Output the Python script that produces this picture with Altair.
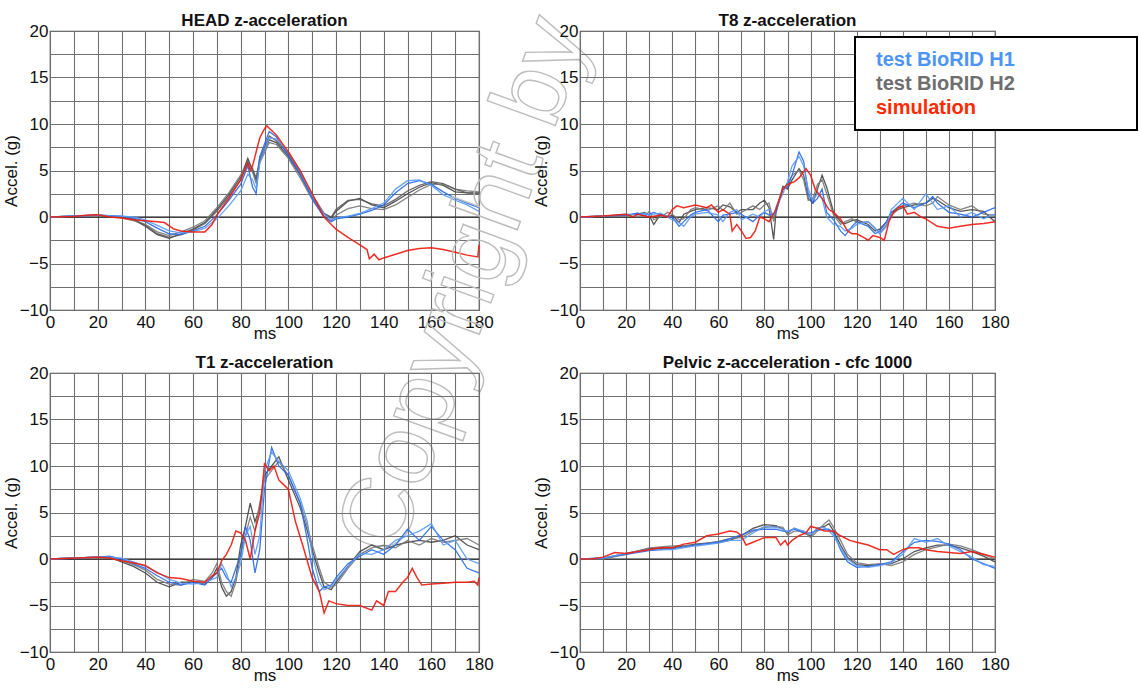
import altair as alt
import pandas as pd

# ---------------- data ----------------
# HEAD z-acceleration
head_t_test = [0,10,20,30,35,40,45,50,55,60,65,70,75,80,83,85,86.5,88,92,95,100,105,110,115,118,120,125,130,135,140,145,150,155,160,165,170,175,180]
head_gray1 = [0,0.1,0.2,0,-0.3,-1.0,-1.9,-2.3,-1.8,-1.3,-0.6,0.8,2.4,4.3,6.3,5.0,4.0,6.0,8.3,8.0,6.5,4.5,2.2,0.3,-0.1,0.6,1.7,2.0,1.3,1.0,1.7,2.5,3.2,3.7,3.4,2.7,2.6,2.6]
head_gray2 = [0,0.1,0.15,-0.1,-0.4,-0.8,-1.6,-2.0,-1.6,-1.1,-0.4,1.0,2.6,4.5,5.8,4.8,3.6,5.8,8.0,7.8,6.3,4.2,1.9,0.0,-0.4,0.2,0.9,1.2,0.9,0.8,1.3,2.1,2.9,3.5,3.5,3.0,2.8,2.7]
head_gray3 = [0,0.1,0.2,0,-0.2,-0.9,-1.8,-2.2,-1.9,-1.4,-0.7,0.6,2.2,4.0,6.0,5.2,4.2,6.3,8.7,8.2,6.8,4.7,2.4,0.4,0.0,0.8,1.8,1.9,1.4,1.2,1.9,2.8,3.4,3.8,3.6,3.0,2.6,2.5]
head_blue1 = [0,0.1,0.2,0.1,-0.1,-0.5,-1.2,-1.8,-1.9,-1.5,-1.0,0.2,1.8,3.5,5.5,3.2,2.5,6.5,9.2,8.6,6.6,4.6,2.0,0.0,-0.5,-0.2,0.0,0.3,0.7,1.3,2.6,3.6,3.9,3.5,2.7,2.0,1.5,1.0]
head_blue2 = [0,0.1,0.2,0.1,0.0,-0.3,-0.9,-1.5,-1.7,-1.6,-1.2,-0.2,1.2,2.8,4.6,4.0,3.0,5.8,8.5,8.4,7.0,4.9,2.3,0.3,-0.3,-0.1,0.1,0.4,0.9,1.5,3.0,3.9,4.0,3.4,2.4,1.8,1.3,0.6]
head_t_sim = [0,10,15,20,25,30,35,40,45,48,52,55,60,65,68,70,75,80,83,84,85,88,90,91,93,95,100,103,105,110,115,118,120,125,130,133,134,136,138,140,145,150,155,160,165,170,175,179.5,180]
head_sim = [0,0.05,0.2,0.25,0.0,-0.1,-0.3,-0.4,-0.5,-0.6,-1.3,-1.5,-1.6,-1.6,-0.8,0.2,2.0,4.0,5.8,5.0,5.5,8.5,9.5,9.8,9.3,8.8,7.0,5.8,5.0,2.5,0.0,-0.8,-1.3,-2.2,-3.0,-3.5,-4.5,-4.0,-4.6,-4.4,-4.0,-3.6,-3.4,-3.3,-3.5,-3.8,-4.1,-4.3,-3.0]

# T8 z-acceleration
t8_t_test = [0,10,20,25,28,30,32,35,38,40,43,45,48,50,55,60,62,65,68,70,75,78,80,82,84,85,88,90,92,95,97,99,101,103,105,107,110,113,115,118,120,125,128,130,133,135,140,145,150,153,155,160,165,170,175,180]
t8_gray1 = [0,0.1,0.2,0.3,0.5,0.2,-0.8,0.3,0.0,0.2,-0.6,0.3,0.6,0.8,1.0,0.8,1.3,1.1,0.5,0.8,0.8,1.5,1.8,1.0,-2.4,0.5,3.3,3.0,4.0,5.2,4.5,2.0,1.5,3.0,4.5,3.2,0.5,-0.5,-0.7,-0.4,-0.3,-0.8,-1.5,-1.3,-0.5,0.5,1.0,1.3,1.5,2.0,1.8,1.0,0.6,0.8,0.6,-0.5]
t8_gray2 = [0,0.1,0.1,0.4,0.0,0.6,-0.3,0.0,0.5,0.3,-0.3,-0.2,0.8,1.0,0.7,1.2,0.7,1.5,0.3,0.5,1.2,0.8,1.3,1.5,-0.5,1.0,3.0,3.6,4.5,5.0,4.0,1.8,2.0,3.5,4.0,2.5,0.2,-0.8,-0.5,-0.2,-0.6,-0.5,-1.2,-1.8,-0.8,0.2,1.2,1.5,1.2,1.5,2.2,1.3,0.8,1.2,0.3,0.2]
t8_blue1 = [0,0.1,0.2,0.4,0.2,0.3,0.5,0.2,0.1,0.0,-1.0,-0.5,0.2,0.5,0.8,-0.5,0.2,0.3,0.5,0.3,-0.5,0.2,0.5,0.2,0.3,0.5,3.0,3.2,4.5,7.0,6.0,2.5,1.5,2.0,3.0,0.5,-0.3,-1.5,-2.0,-1.0,-0.5,-1.0,-1.8,-1.5,-0.5,0.5,1.5,1.0,1.5,2.2,1.5,0.5,0.3,0.0,0.5,1.0]
t8_blue2 = [0,0.1,0.3,0.2,0.4,0.2,0.3,0.4,0.0,-0.3,-0.6,-1.0,0.0,0.3,0.5,0.2,-0.5,0.5,0.8,-0.3,0.3,0.0,0.6,0.8,0.2,1.0,2.5,3.8,5.5,6.5,5.5,3.0,1.8,2.5,2.0,0.0,-0.8,-1.0,-1.5,-1.2,-0.8,-0.5,-1.2,-1.8,-1.0,0.8,2.0,0.8,2.5,1.5,0.8,1.2,0.0,0.5,-0.2,0.3]
t8_t_sim = [0,10,20,23,25,30,35,38,40,42,45,50,55,57,60,62,65,66,68,70,72,74,76,78,80,82,85,88,90,93,95,98,100,102,105,108,110,113,116,118,120,123,125,127,130,132,134,136,138,140,142,145,148,150,155,160,165,170,175,180]
t8_sim = [0,0.1,0.3,0.0,0.3,0.0,0.2,0.0,0.8,1.2,1.0,1.3,1.0,1.3,0.5,0.8,0.3,-1.5,-0.8,-1.5,-2.3,-2.2,-1.5,0.0,-0.2,-0.5,0.8,3.0,3.5,3.8,4.2,5.2,4.5,3.0,2.0,0.8,0.5,-0.2,-1.5,-1.8,-1.8,-2.2,-2.5,-2.0,-2.2,-2.5,-0.5,0.5,1.0,1.2,0.3,0.5,0.0,-0.2,-1.0,-1.2,-1.0,-0.8,-0.7,-0.5]

# T1 z-acceleration
t1_t_test = [0,20,25,30,35,40,45,50,55,60,65,68,70,72,74,76,78,80,82,84,86,88,90,93,96,100,105,108,110,113,115,118,120,125,130,135,140,145,150,155,160,165,170,175,180]
t1_gray1 = [0,0.2,0.2,-0.3,-0.8,-1.5,-2.5,-3.0,-2.5,-2.5,-2.7,-2.0,-1.0,-3.0,-4.0,-3.5,-2.0,1.5,3.5,6.0,4.0,5.5,9.0,10.0,11.0,8.5,5.5,3.0,1.0,-1.5,-3.0,-3.3,-2.5,-0.8,0.8,1.5,1.0,1.5,1.8,2.0,1.8,2.0,2.5,1.5,1.0]
t1_gray2 = [0,0.2,0.1,-0.2,-0.6,-1.2,-2.2,-2.7,-2.8,-2.2,-2.4,-1.5,-0.5,-2.5,-3.5,-4.0,-2.5,0.5,2.5,4.5,3.0,6.0,8.5,9.5,10.5,9.0,6.0,3.5,1.5,-1.0,-2.5,-3.0,-2.8,-1.0,0.5,1.2,1.5,1.2,2.0,1.5,2.2,1.8,2.0,2.2,1.5]
t1_blue1 = [0,0.2,0.3,0.0,-0.5,-1.0,-1.8,-2.5,-2.8,-2.5,-2.8,-2.0,-1.5,-1.0,-2.0,-2.5,-1.0,0.5,3.5,2.0,-1.5,1.0,7.5,12.0,10.0,9.0,6.0,2.0,-1.0,-3.5,-3.0,-2.8,-2.0,-0.5,0.3,1.0,0.5,1.5,3.2,2.0,3.5,2.0,1.0,-1.0,-1.5]
t1_blue2 = [0,0.2,0.2,0.1,-0.3,-0.8,-1.4,-2.2,-2.6,-2.7,-2.5,-2.2,-2.0,-0.5,-1.5,-3.0,-2.0,-0.5,2.5,3.5,0.5,2.5,9.5,11.5,10.5,9.5,6.5,4.0,0.5,-2.5,-3.3,-3.0,-2.3,-0.8,0.6,0.5,1.0,2.0,2.5,3.0,3.8,1.5,2.0,0.0,-0.5]
t1_t_sim = [0,20,25,30,35,40,45,50,55,60,65,68,70,72,74,76,78,80,82,84,86,88,90,92,94,96,98,100,103,106,110,113,115,117,120,125,130,135,137,140,142,145,148,150,152,154,156,160,165,170,175,178,179.5,180]
t1_sim = [0,0.2,0.1,-0.2,-0.4,-0.7,-1.5,-2.0,-2.1,-2.4,-2.5,-1.8,-1.5,-0.2,0.5,1.5,3.0,2.8,2.0,0.0,3.0,5.0,10.2,9.5,10.0,8.5,8.0,7.5,4.0,1.5,-2.0,-3.5,-5.8,-4.5,-4.8,-5.0,-5.0,-5.5,-4.5,-5.0,-3.5,-3.5,-2.5,-2.0,-1.0,-2.0,-2.8,-2.7,-2.6,-2.5,-2.5,-2.4,-2.8,-2.0]

# Pelvic z-acceleration - cfc 1000
pel_t_test = [0,10,20,30,40,50,60,65,70,75,80,85,88,90,93,97,100,103,106,108,110,113,116,120,125,130,135,140,145,150,155,160,165,170,175,180]
pel_gray1 = [0,0.1,0.6,1.1,1.2,1.6,1.8,2.0,2.5,3.3,3.7,3.6,3.2,2.8,3.3,2.8,2.5,3.3,3.5,3.8,3.0,1.5,0.2,-0.6,-0.7,-0.6,-0.5,0.0,0.8,1.2,1.5,1.5,1.2,0.8,0.3,-0.3]
pel_gray2 = [0,0.0,0.5,1.2,1.4,1.5,1.9,2.2,2.3,3.0,3.4,3.5,3.4,2.6,3.0,3.0,2.3,3.0,3.8,4.2,3.4,2.0,0.5,-0.4,-0.6,-0.5,-0.7,-0.3,0.5,1.0,1.3,1.6,1.4,1.0,0.5,0.0]
pel_blue1 = [0,0.1,0.5,0.9,1.1,1.5,1.8,2.2,2.6,3.1,3.2,3.2,3.0,3.0,3.2,2.8,2.8,3.1,3.2,3.2,2.8,1.0,-0.3,-0.9,-0.8,-0.6,-0.3,0.8,1.8,2.0,1.9,1.6,1.0,0.0,-0.5,-1.0]
pel_blue2 = [0,0.1,0.6,1.0,1.0,1.4,1.7,2.0,2.0,2.8,3.5,3.4,3.2,2.9,3.3,3.0,2.6,3.3,3.4,3.0,2.5,1.2,0.0,-0.7,-0.9,-0.7,-0.4,0.5,2.2,1.8,2.2,1.4,0.8,0.2,-0.6,-0.8]
pel_t_sim = [0,5,10,15,20,25,30,35,40,45,50,55,60,65,68,70,72,75,80,85,87,89,90,92,95,98,100,103,106,110,113,117,120,125,130,133,136,140,143,147,150,155,160,165,170,175,180]
pel_sim = [0,0.0,0.2,0.7,0.6,0.8,1.0,1.2,1.2,1.6,1.8,2.5,2.7,3.0,2.9,2.5,1.5,1.8,2.3,2.3,1.5,2.0,1.5,2.0,2.5,2.8,3.5,3.3,3.0,3.0,2.5,2.0,1.8,1.5,1.0,1.0,0.5,1.0,1.2,1.2,1.0,0.8,0.7,0.6,0.8,0.5,0.2]

titles = ["HEAD z-acceleration", "T8 z-acceleration", "T1 z-acceleration", "Pelvic z-acceleration - cfc 1000"]
legend_labels = ["test BioRID H1", "test BioRID H2", "simulation"]
y_grid = [-10, -7.5, -5, -2.5, 0, 2.5, 5, 7.5, 10, 12.5, 15, 17.5, 20]
x_grid = list(range(0, 181, 10))

GRAYS = ["#474747", "#7a7a7a", "#5e5e5e"]
BLUES = ["#2a6be6", "#5b9bf7"]
RED = "#ee1d12"
FONT = "Liberation Sans"


def xenc():
    return alt.X("t:Q", scale=alt.Scale(domain=[0, 180], nice=False, zero=False),
                 axis=alt.Axis(values=x_grid, labelExpr="datum.value % 20 == 0 ? datum.label : ''",
                               title="ms", labelPadding=4, titlePadding=-5))


def yenc():
    return alt.Y("v:Q", scale=alt.Scale(domain=[-10, 20], nice=False, zero=False),
                 axis=alt.Axis(values=y_grid, labelExpr="datum.value % 5 == 0 ? datum.label : ''",
                               title="Accel. (g)", labelPadding=2, titlePadding=-1))


def line_layer(t, vals, color, width=1.3):
    df = pd.DataFrame({"t": t, "v": vals})
    return alt.Chart(df).mark_line(strokeWidth=width, color=color, opacity=0.92).encode(x=xenc(), y=yenc())


def panel(title, t_test, grays, blues, t_sim, sim, width, legend=False, watermark=False):
    zero = alt.Chart(pd.DataFrame({"v": [0]})).mark_rule(color="#111111", strokeWidth=1.2).encode(y=yenc())
    layers = [zero]
    for i, g in enumerate(grays):
        layers.append(line_layer(t_test, g, GRAYS[i]))
    for i, b in enumerate(blues):
        layers.append(line_layer(t_test, b, BLUES[i]))
    layers.append(line_layer(t_sim, sim, RED, 1.5))
    # panel title (as a text annotation so that it sits right above the plot frame)
    layers.append(alt.Chart(pd.DataFrame({"title": [title]})).mark_text(
        font=FONT, fontSize=17, fontWeight="bold", color="#111111", align="center", baseline="alphabetic").encode(
        text="title:N", x=alt.value(width / 2), y=alt.value(-5)))
    if watermark:
        wm = alt.Chart(pd.DataFrame({"w": ["Copyright by"]})).mark_text(
            font=FONT, fontSize=100, angle=290, fillOpacity=0, stroke="#bdbdbd", strokeWidth=1.4,
            align="center", baseline="middle").encode(text="w:N", x=alt.value(415), y=alt.value(255))
        layers.append(wm)
    if legend:
        box = alt.Chart(pd.DataFrame({"a": [0]})).mark_rect(fill="white", stroke="black", strokeWidth=2).encode(
            x=alt.value(275), x2=alt.value(557), y=alt.value(6), y2=alt.value(99))
        layers.append(box)
        for lab, col, yy in zip(legend_labels, ["#4d94f7", "#6e6e6e", "#ff2a00"], [29, 53, 77]):
            layers.append(alt.Chart(pd.DataFrame({"l": [lab]})).mark_text(
                font=FONT, fontSize=20, fontWeight="bold", color=col, align="left", baseline="middle").encode(
                text="l:N", x=alt.value(296), y=alt.value(yy)))
    return alt.layer(*layers).properties(width=width, height=279)


p1 = panel(titles[0], head_t_test, [head_gray1, head_gray2, head_gray3], [head_blue1, head_blue2], head_t_sim, head_sim, 429, watermark=True)
p2 = panel(titles[1], t8_t_test, [t8_gray1, t8_gray2], [t8_blue1, t8_blue2], t8_t_sim, t8_sim, 415, legend=True)
p3 = panel(titles[2], t1_t_test, [t1_gray1, t1_gray2], [t1_blue1, t1_blue2], t1_t_sim, t1_sim, 429)
p4 = panel(titles[3], pel_t_test, [pel_gray1, pel_gray2], [pel_blue1, pel_blue2], pel_t_sim, pel_sim, 415)

chart = alt.concat(p1, p2, p3, p4, columns=2, spacing={"row": 63, "column": 101}, bounds="flush").properties(
    padding={"left": 1, "top": 4, "right": 0, "bottom": 0}, background="white"
).configure_view(stroke="#444444", strokeWidth=1.2).configure_axis(
    gridColor="#707070", gridWidth=1.1, gridOpacity=1, ticks=False, domain=False,
    labelFont=FONT, labelFontSize=17, labelColor="#111111", labelFlush=False,
    titleFont=FONT, titleFontSize=17, titleFontWeight="normal", titleColor="#111111",
)

chart.save("out.html", embed_options={"renderer": "svg", "actions": False})
